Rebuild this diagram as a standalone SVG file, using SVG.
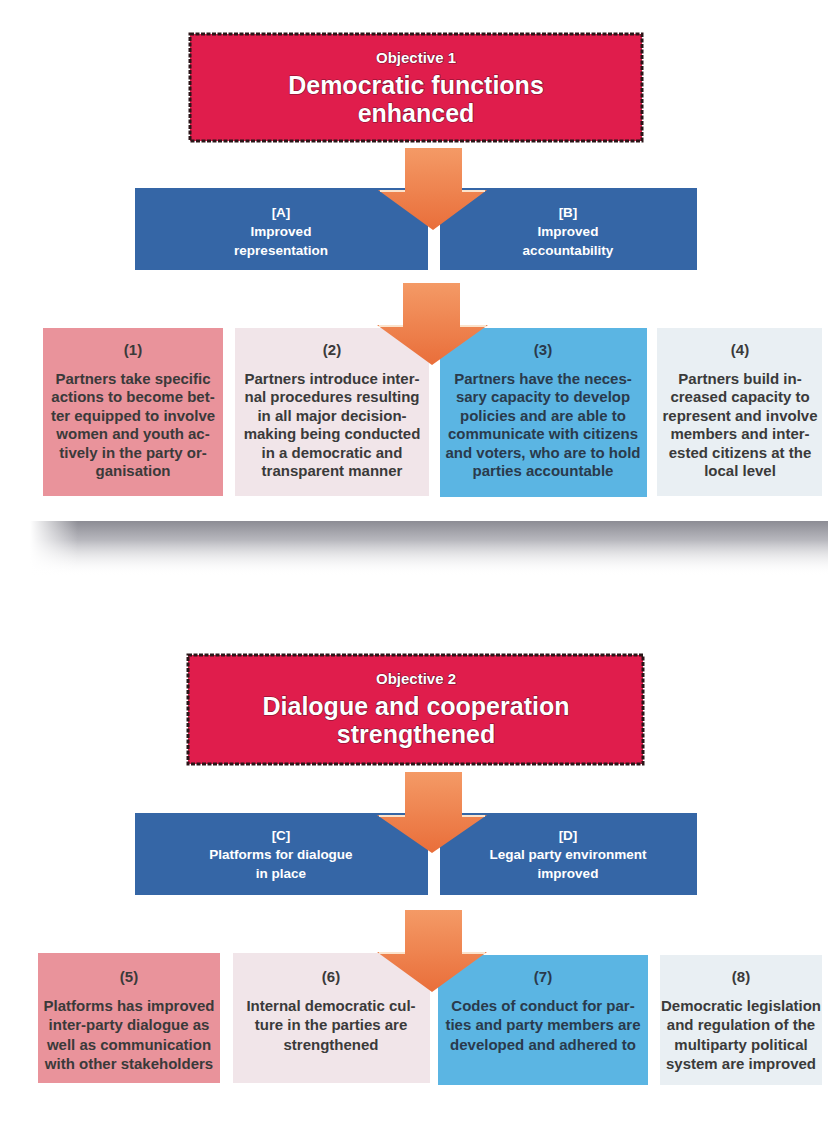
<svg xmlns="http://www.w3.org/2000/svg" width="828" height="1146" viewBox="0 0 828 1146">
<defs>
<style>
.obj{fill:#e01d4c;stroke:#2b1518;stroke-width:3;stroke-dasharray:4 1.5}
.ot{font-family:"Liberation Sans",Arial,sans-serif;font-weight:bold;fill:#fff;text-anchor:middle;stroke:#7a0f2c;stroke-width:1.2;paint-order:stroke}
.blue{fill:#3566a6}
.bt{font-family:"Liberation Sans",Arial,sans-serif;font-weight:bold;font-size:13.5px;fill:#fff;text-anchor:middle}
.rt{font-family:"Liberation Sans",Arial,sans-serif;font-weight:bold;font-size:15px;fill:#3a3a3a;text-anchor:middle}
.rtb{fill:#2a3a4c}
.arrow{fill:url(#ag)}
.hl{stroke:#fbe3cc;stroke-width:2;fill:none}
</style>
<linearGradient id="ag" x1="0" y1="0" x2="0" y2="1">
<stop offset="0" stop-color="#f49a66"/>
<stop offset="1" stop-color="#e96e3a"/>
</linearGradient>
<linearGradient id="sg" x1="0" y1="0" x2="0" y2="1">
<stop offset="0" stop-color="#8c8c94"/>
<stop offset="0.35" stop-color="#b8b8be"/>
<stop offset="1" stop-color="#ffffff" stop-opacity="0"/>
</linearGradient>
<linearGradient id="sh" x1="0" y1="0" x2="1" y2="0">
<stop offset="0" stop-color="#fff"/>
<stop offset="0.06" stop-color="#fff" stop-opacity="0"/>
<stop offset="1" stop-color="#fff" stop-opacity="0"/>
</linearGradient>
</defs>
<rect width="828" height="1146" fill="#ffffff"/>

<g id="shadow">
<rect x="30" y="521" width="798" height="55" fill="url(#sg)"/>
<rect x="30" y="521" width="798" height="55" fill="url(#sh)"/>
</g>

<g id="objective1">
<rect class="obj" x="190" y="34" width="452" height="107"/>
<text class="ot" x="416" y="63" font-size="15">Objective 1</text>
<text class="ot" x="416" y="94" font-size="25">Democratic functions</text>
<text class="ot" x="416" y="122" font-size="25">enhanced</text>
</g>

<g id="outputA">
<rect class="blue" x="135" y="188" width="293" height="82"/>
<text class="bt" x="281" y="217">[A]</text>
<text class="bt" x="281" y="236">Improved</text>
<text class="bt" x="281" y="255">representation</text>
</g>
<g id="outputB">
<rect class="blue" x="440" y="188" width="257" height="82"/>
<text class="bt" x="568" y="217">[B]</text>
<text class="bt" x="568" y="236">Improved</text>
<text class="bt" x="568" y="255">accountability</text>
</g>

<g id="result1">
<rect x="43" y="328" width="180" height="168" fill="#e9939b"/>
<text class="rt" x="133" y="355">(1)</text>
<text class="rt" x="133" y="384">Partners take specific</text>
<text class="rt" x="133" y="402.4">actions to become bet-</text>
<text class="rt" x="133" y="420.8">ter equipped to involve</text>
<text class="rt" x="133" y="439.2">women and youth ac-</text>
<text class="rt" x="133" y="457.6">tively in the party or-</text>
<text class="rt" x="133" y="476">ganisation</text>
</g>
<g id="result2">
<rect x="235" y="328" width="194" height="168" fill="#f1e5e9"/>
<text class="rt" x="332" y="355">(2)</text>
<text class="rt" x="332" y="384">Partners introduce inter-</text>
<text class="rt" x="332" y="402.4">nal procedures resulting</text>
<text class="rt" x="332" y="420.8">in all major decision-</text>
<text class="rt" x="332" y="439.2">making being conducted</text>
<text class="rt" x="332" y="457.6">in a democratic and</text>
<text class="rt" x="332" y="476">transparent manner</text>
</g>
<g id="result3">
<rect x="440" y="328" width="207" height="169" fill="#5bb5e3"/>
<text class="rt rtb" x="543" y="355">(3)</text>
<text class="rt rtb" x="543" y="384">Partners have the neces-</text>
<text class="rt rtb" x="543" y="402.4">sary capacity to develop</text>
<text class="rt rtb" x="543" y="420.8">policies and are able to</text>
<text class="rt rtb" x="543" y="439.2">communicate with citizens</text>
<text class="rt rtb" x="543" y="457.6">and voters, who are to hold</text>
<text class="rt rtb" x="543" y="476">parties accountable</text>
</g>
<g id="result4">
<rect x="657" y="328" width="165" height="168" fill="#e9eff3"/>
<text class="rt" x="740" y="355">(4)</text>
<text class="rt" x="740" y="384">Partners build in-</text>
<text class="rt" x="740" y="402.4">creased capacity to</text>
<text class="rt" x="740" y="420.8">represent and involve</text>
<text class="rt" x="740" y="439.2">members and inter-</text>
<text class="rt" x="740" y="457.6">ested citizens at the</text>
<text class="rt" x="740" y="476">local level</text>
</g>

<g id="objective2">
<rect class="obj" x="188" y="655" width="455" height="109"/>
<text class="ot" x="416" y="684" font-size="15">Objective 2</text>
<text class="ot" x="416" y="715" font-size="25">Dialogue and cooperation</text>
<text class="ot" x="416" y="743" font-size="25">strengthened</text>
</g>

<g id="outputC">
<rect class="blue" x="135" y="813" width="293" height="82"/>
<text class="bt" x="281" y="840">[C]</text>
<text class="bt" x="281" y="859">Platforms for dialogue</text>
<text class="bt" x="281" y="878">in place</text>
</g>
<g id="outputD">
<rect class="blue" x="440" y="813" width="257" height="82"/>
<text class="bt" x="568" y="840">[D]</text>
<text class="bt" x="568" y="859">Legal party environment</text>
<text class="bt" x="568" y="878">improved</text>
</g>

<g id="result5">
<rect x="38" y="953" width="182" height="130" fill="#e9939b"/>
<text class="rt" x="129" y="982">(5)</text>
<text class="rt" x="129" y="1011">Platforms has improved</text>
<text class="rt" x="129" y="1030.3">inter-party dialogue as</text>
<text class="rt" x="129" y="1049.6">well as communication</text>
<text class="rt" x="129" y="1068.9">with other stakeholders</text>
</g>
<g id="result6">
<rect x="233" y="953" width="197" height="130" fill="#f1e5e9"/>
<text class="rt" x="331" y="982">(6)</text>
<text class="rt" x="331" y="1011">Internal democratic cul-</text>
<text class="rt" x="331" y="1030.3">ture in the parties are</text>
<text class="rt" x="331" y="1049.6">strengthened</text>
</g>
<g id="result7">
<rect x="438" y="955" width="210" height="130" fill="#5bb5e3"/>
<text class="rt rtb" x="543" y="982">(7)</text>
<text class="rt rtb" x="543" y="1011">Codes of conduct for par-</text>
<text class="rt rtb" x="543" y="1030.3">ties and party members are</text>
<text class="rt rtb" x="543" y="1049.6">developed and adhered to</text>
</g>
<g id="result8">
<rect x="660" y="955" width="162" height="130" fill="#e9eff3"/>
<text class="rt" x="741" y="982">(8)</text>
<text class="rt" x="741" y="1011">Democratic legislation</text>
<text class="rt" x="741" y="1030.3">and regulation of the</text>
<text class="rt" x="741" y="1049.6">multiparty political</text>
<text class="rt" x="741" y="1068.9">system are improved</text>
</g>

<g id="connectors">
<path class="arrow" d="M405,148 H462 V190 H487 L433,230 L378,190 H405 Z"/>
<path class="hl" d="M380,191 H405 M462,191 H485"/>
<path class="arrow" d="M403,283 H460 V325 H488 L432,365 L377,325 H403 Z"/>
<path class="hl" d="M379,326 H403 M460,326 H486"/>
<path class="arrow" d="M405,772 H462 V815 H487 L432,853 L377,815 H405 Z"/>
<path class="hl" d="M379,816 H405 M462,816 H485"/>
<path class="arrow" d="M405,910 H462 V952 H487 L432,992 L377,952 H405 Z"/>
<path class="hl" d="M379,953 H405 M462,953 H485"/>
</g>
</svg>
